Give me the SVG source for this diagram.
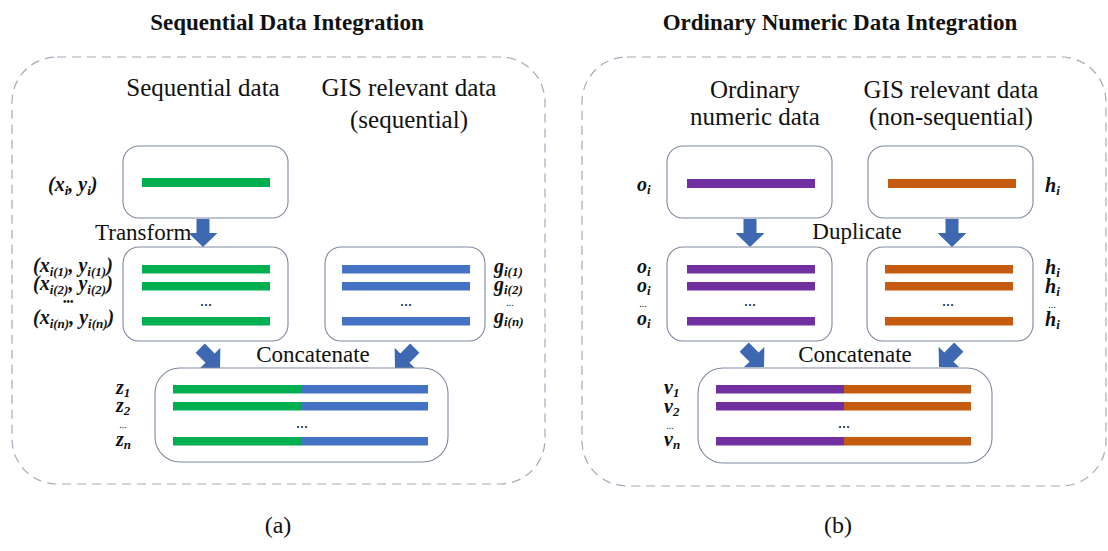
<svg xmlns="http://www.w3.org/2000/svg" xmlns:xlink="http://www.w3.org/1999/xlink" width="1108" height="551" viewBox="0 0 1108 551">
  <style>
    text { font-family: 'Liberation Serif', 'DejaVu Serif', serif; fill: #111; }
    .title { font-size: 23px; font-weight: bold; text-anchor: middle; }
    .head { font-size: 25px; text-anchor: middle; }
    .verb { font-size: 23px; }
    .cap { font-size: 24px; text-anchor: middle; }
    .m { font-size: 20px; font-weight: bold; font-style: italic; }
    .s { font-size: 13px; }
    .dots { font-size: 16px; text-anchor: middle; }
    .ldots { font-size: 10px; font-weight: bold; }
    .vdots { font-size: 10px; text-anchor: middle; }
    .frame { fill: none; stroke: #A3AAB8; stroke-width: 1.2; stroke-dasharray: 9 6; }
    .box { fill: #fff; stroke: #7E8AA0; stroke-width: 1.1; }
    .green { fill: #00B050; }
    .blue { fill: #4472C4; }
    .purple { fill: #7030A0; }
    .orange { fill: #C55A11; }
    .arrow { fill: #3E69B2; }
  </style>
  <defs>
    <!-- block arrow pointing down, tip at origin -->
    <polygon id="blockArrow" points="-6.5,-28 6.5,-28 6.5,-14 14.5,-14 0,0 -14.5,-14 -6.5,-14"/>
  </defs>

  <rect width="1108" height="551" fill="#fff"/>

  <!-- panel titles and frames -->
  <text class="title" x="287" y="30">Sequential Data Integration</text>
  <text class="title" x="840" y="30">Ordinary Numeric Data Integration</text>
  <rect class="frame" x="12" y="57" width="533" height="427" rx="45"/>
  <rect class="frame" x="582" y="57" width="524" height="429" rx="45"/>

  <!-- column headings -->
  <text class="head" x="203" y="96">Sequential data</text>
  <text class="head" x="409" y="96">GIS relevant data</text>
  <text class="head" x="409" y="128">(sequential)</text>
  <text class="head" x="755" y="98">Ordinary</text>
  <text class="head" x="755" y="125">numeric data</text>
  <text class="head" x="951" y="98">GIS relevant data</text>
  <text class="head" x="951" y="125">(non-sequential)</text>

  <!-- step labels -->
  <text class="verb" x="95" y="240">Transform</text>
  <text class="verb" x="313" y="362" text-anchor="middle">Concatenate</text>
  <text class="verb" x="857" y="239" text-anchor="middle">Duplicate</text>
  <text class="verb" x="855" y="362" text-anchor="middle">Concatenate</text>

  <!-- connectors -->
  <g id="connectors" class="arrow">
    <use xlink:href="#blockArrow" transform="translate(203,247)"/>
    <use xlink:href="#blockArrow" transform="translate(220,368) rotate(-45)"/>
    <use xlink:href="#blockArrow" transform="translate(395,368) rotate(45)"/>
    <use xlink:href="#blockArrow" transform="translate(750,247)"/>
    <use xlink:href="#blockArrow" transform="translate(952,247)"/>
    <use xlink:href="#blockArrow" transform="translate(764,367) rotate(-45)"/>
    <use xlink:href="#blockArrow" transform="translate(939,367) rotate(45)"/>
  </g>

  <!-- (a) raw sequential record -->
  <g id="seq-input">
    <rect class="box" x="123" y="146" width="165" height="72" rx="16"/>
    <rect class="green" x="142" y="178" width="128" height="9"/>
    <text class="m" x="48" y="191">(x<tspan class="s" dy="4">i</tspan><tspan dy="-4">, y</tspan><tspan class="s" dy="4">i</tspan><tspan dy="-4">)</tspan></text>
  </g>

  <!-- (a) transformed sequential records -->
  <g id="seq-transformed">
    <rect class="box" x="123" y="247" width="165" height="94" rx="16"/>
    <rect class="green" x="142" y="265" width="128" height="8.5"/>
    <rect class="green" x="142" y="282" width="128" height="8.5"/>
    <rect class="green" x="142" y="317" width="128" height="8.5"/>
    <text class="dots" x="206" y="306">...</text>
    <text class="m" x="33" y="272">(x<tspan class="s" dy="4">i(1)</tspan><tspan dy="-4">, y</tspan><tspan class="s" dy="4">i(1)</tspan><tspan dy="-4">)</tspan></text>
    <text class="m" x="33" y="290">(x<tspan class="s" dy="4">i(2)</tspan><tspan dy="-4">, y</tspan><tspan class="s" dy="4">i(2)</tspan><tspan dy="-4">)</tspan></text>
    <text class="ldots" x="63" y="305">•••</text>
    <text class="m" x="33" y="324">(x<tspan class="s" dy="4">i(n)</tspan><tspan dy="-4">, y</tspan><tspan class="s" dy="4">i(n)</tspan><tspan dy="-4">)</tspan></text>
  </g>

  <!-- (a) GIS sequential records -->
  <g id="gis-sequential">
    <rect class="box" x="325" y="247" width="160" height="94" rx="16"/>
    <rect class="blue" x="342" y="265" width="128" height="8.5"/>
    <rect class="blue" x="342" y="282" width="128" height="8.5"/>
    <rect class="blue" x="342" y="317" width="128" height="8.5"/>
    <text class="dots" x="406" y="306">...</text>
    <text class="m" x="494" y="273" font-size="22">g<tspan class="s" dy="3">i(1)</tspan></text>
    <text class="m" x="494" y="291" font-size="22">g<tspan class="s" dy="3">i(2)</tspan></text>
    <text class="vdots" x="510" y="306">...</text>
    <text class="m" x="494" y="323" font-size="22">g<tspan class="s" dy="3">i(n)</tspan></text>
  </g>

  <!-- (a) concatenated records -->
  <g id="seq-concat">
    <rect class="box" x="155" y="368" width="293" height="94" rx="25"/>
    <rect class="green" x="173" y="385" width="129" height="8.5"/>
    <rect class="blue" x="302" y="385" width="126" height="8.5"/>
    <rect class="green" x="173" y="402" width="129" height="8.5"/>
    <rect class="blue" x="302" y="402" width="126" height="8.5"/>
    <rect class="green" x="173" y="437" width="129" height="8.5"/>
    <rect class="blue" x="302" y="437" width="126" height="8.5"/>
    <text class="dots" x="302" y="428">...</text>
    <text class="m" x="116" y="394" font-size="18">z<tspan class="s" dy="3">1</tspan></text>
    <text class="m" x="116" y="412" font-size="18">z<tspan class="s" dy="3">2</tspan></text>
    <text class="vdots" x="123" y="428">...</text>
    <text class="m" x="116" y="446" font-size="18">z<tspan class="s" dy="3">n</tspan></text>
  </g>

  <!-- (b) ordinary numeric record -->
  <g id="ord-input">
    <rect class="box" x="667" y="146" width="165" height="72" rx="16"/>
    <rect class="purple" x="687" y="179" width="128" height="9"/>
    <text class="m" x="637" y="191" font-size="22">o<tspan class="s" dy="3">i</tspan></text>
  </g>

  <!-- (b) GIS non-sequential record -->
  <g id="gis-input">
    <rect class="box" x="868" y="146" width="165" height="72" rx="16"/>
    <rect class="orange" x="888" y="179" width="128" height="9"/>
    <text class="m" x="1045" y="192" font-size="22">h<tspan class="s" dy="3">i</tspan></text>
  </g>

  <!-- (b) duplicated ordinary records -->
  <g id="ord-duplicated">
    <rect class="box" x="667" y="247" width="165" height="94" rx="16"/>
    <rect class="purple" x="687" y="265" width="128" height="8.5"/>
    <rect class="purple" x="687" y="282" width="128" height="8.5"/>
    <rect class="purple" x="687" y="317" width="128" height="8.5"/>
    <text class="dots" x="750" y="306">...</text>
    <text class="m" x="637" y="273" font-size="22">o<tspan class="s" dy="3">i</tspan></text>
    <text class="m" x="637" y="292" font-size="22">o<tspan class="s" dy="3">i</tspan></text>
    <text class="vdots" x="643" y="307">...</text>
    <text class="m" x="637" y="325" font-size="22">o<tspan class="s" dy="3">i</tspan></text>
  </g>

  <!-- (b) duplicated GIS records -->
  <g id="gis-duplicated">
    <rect class="box" x="867" y="247" width="166" height="94" rx="16"/>
    <rect class="orange" x="885" y="265" width="128" height="8.5"/>
    <rect class="orange" x="885" y="282" width="128" height="8.5"/>
    <rect class="orange" x="885" y="317" width="128" height="8.5"/>
    <text class="dots" x="948" y="306">...</text>
    <text class="m" x="1045" y="274" font-size="22">h<tspan class="s" dy="3">i</tspan></text>
    <text class="m" x="1045" y="293" font-size="22">h<tspan class="s" dy="3">i</tspan></text>
    <text class="vdots" x="1052" y="308">...</text>
    <text class="m" x="1045" y="326" font-size="22">h<tspan class="s" dy="3">i</tspan></text>
  </g>

  <!-- (b) concatenated records -->
  <g id="ord-concat">
    <rect class="box" x="698" y="368" width="294" height="95" rx="25"/>
    <rect class="purple" x="716" y="385" width="128" height="8.5"/>
    <rect class="orange" x="844" y="385" width="127" height="8.5"/>
    <rect class="purple" x="716" y="402" width="128" height="8.5"/>
    <rect class="orange" x="844" y="402" width="127" height="8.5"/>
    <rect class="purple" x="716" y="437" width="128" height="8.5"/>
    <rect class="orange" x="844" y="437" width="127" height="8.5"/>
    <text class="dots" x="844" y="428">...</text>
    <text class="m" x="664" y="394" font-size="20">v<tspan class="s" dy="3">1</tspan></text>
    <text class="m" x="664" y="413" font-size="20">v<tspan class="s" dy="3">2</tspan></text>
    <text class="vdots" x="670" y="429">...</text>
    <text class="m" x="664" y="446" font-size="20">v<tspan class="s" dy="3">n</tspan></text>
  </g>

  <!-- sub-figure captions -->
  <text class="cap" x="278" y="533">(a)</text>
  <text class="cap" x="838" y="533">(b)</text>
</svg>
